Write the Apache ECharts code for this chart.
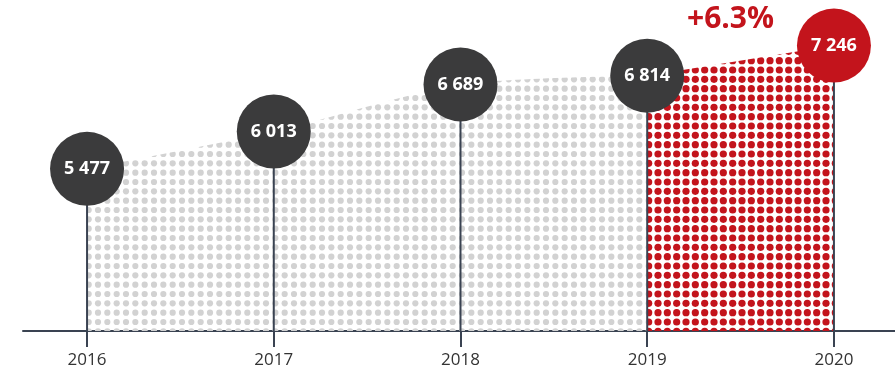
<!DOCTYPE html>
<html>
<head>
<meta charset="utf-8">
<script src="https://cdn.jsdelivr.net/npm/echarts@6/dist/echarts.min.js"></script>
<style>
  html, body { margin: 0; padding: 0; background: #fff; }
  #chart { width: 895px; height: 373px; }
</style>
</head>
<body>
<div id="chart"></div>
<script>
// Yearly totals
const years = [2016, 2017, 2018, 2019, 2020];
const values = [5477, 6013, 6689, 6814, 7246];
const yearLabels = ['2016', '2017', '2018', '2019', '2020'];

const DARK = '#3b3b3c';
const RED = '#c3141c';
const STEM = '#3a4352';
const Y_MIN = 3150;

// Tile holding 3x3 dots so the pitch can be 28/3 px
function dotTile(color, r) {
  const c = document.createElement('canvas');
  c.width = 28; c.height = 28;
  const ctx = c.getContext('2d');
  ctx.fillStyle = color;
  const step = 28 / 3;
  for (let i = 0; i < 3; i++) {
    for (let j = 0; j < 3; j++) {
      ctx.beginPath();
      ctx.arc(step / 2 + i * step, step / 2 + j * step, r, 0, Math.PI * 2);
      ctx.fill();
    }
  }
  return c;
}

const fmt = v => String(v).replace(/\B(?=(\d{3})+(?!\d))/g, ' ');

const points = years.map((y, i) => [y, values[i]]);
const last = values.length - 1;
const growth = (values[last] - values[last - 1]) / values[last - 1] * 100;

const chart = echarts.init(document.getElementById('chart'));
chart.setOption({
  animation: false,
  grid: { left: 23, right: 0, top: 0, bottom: 42 },
  xAxis: {
    type: 'value',
    min: 2015.657,
    max: 2020.327,
    splitLine: { show: false },
    axisLine: { show: true, lineStyle: { color: STEM, width: 2 } },
    axisTick: { show: true, customValues: years, length: 16, lineStyle: { color: STEM, width: 2 } },
    axisLabel: {
      customValues: years,
      formatter: v => yearLabels[years.indexOf(Math.round(v))] || '',
      margin: 21,
      color: '#333',
      fontSize: 17,
      fontFamily: 'Open Sans'
    }
  },
  yAxis: { type: 'value', min: Y_MIN, max: 7900, show: false },
  series: [
    {
      type: 'line',
      data: points.slice(0, last),
      smooth: 0.25,
      symbol: 'none',
      lineStyle: { width: 0 },
      areaStyle: { color: { image: dotTile('#d2d2d2', 3.1), repeat: 'repeat' }, opacity: 1 },
      z: 1
    },
    {
      type: 'line',
      data: points.slice(last - 1),
      symbol: 'none',
      lineStyle: { width: 0 },
      areaStyle: { color: { image: dotTile(RED, 3.6), repeat: 'repeat' }, opacity: 1 },
      z: 1
    },
    {
      type: 'custom',
      data: points,
      renderItem: (params, api) => {
        const top = api.coord([api.value(0), api.value(1)]);
        const bottom = api.coord([api.value(0), Y_MIN]);
        return {
          type: 'line',
          shape: { x1: top[0], y1: top[1], x2: bottom[0], y2: bottom[1] },
          style: { stroke: STEM, lineWidth: 2 }
        };
      },
      z: 2
    },
    {
      type: 'scatter',
      data: points.map((p, i) => ({
        value: p,
        itemStyle: { color: i === last ? RED : DARK, opacity: 1 }
      })),
      symbolSize: 74,
      label: {
        show: true,
        position: 'inside',
        formatter: p => fmt(p.value[1]),
        color: '#fff',
        fontSize: 18,
        fontWeight: 'bold',
        fontFamily: 'Open Sans'
      },
      z: 3
    }
  ],
  graphic: [
    {
      type: 'text',
      left: 687,
      top: 4,
      style: {
        text: '+' + growth.toFixed(1) + '%',
        fill: RED,
        fontSize: 30,
        fontWeight: 'bold',
        fontFamily: 'Open Sans'
      }
    }
  ]
});
</script>
</body>
</html>
